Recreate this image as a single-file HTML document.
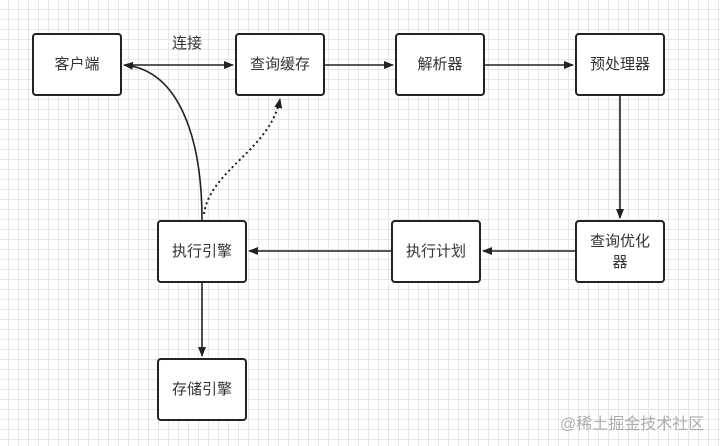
<!DOCTYPE html>
<html><head><meta charset="utf-8"><style>
body{margin:0;width:720px;height:446px;overflow:hidden;background:#fff;
background-image:linear-gradient(#e6e6e6 1px,transparent 1px),linear-gradient(90deg,#e6e6e6 1px,transparent 1px);background-size:10px 10px;background-position:-2px -1px;
font-family:"Liberation Sans","Noto Sans CJK SC",sans-serif;}
.b{position:absolute;width:90px;height:63px;border:2px solid #222;border-radius:4px;background:#fff;display:flex;align-items:center;justify-content:center;text-align:center;font-size:15px;color:#333;box-sizing:border-box;line-height:21px}
svg{position:absolute;left:0;top:0}
</style></head><body>
<svg width="720" height="446">
<defs><marker id="a" markerWidth="10" markerHeight="10" refX="9" refY="5" orient="auto" markerUnits="userSpaceOnUse"><path d="M0,1 L10,5 L0,9 Z" fill="#222"/></marker></defs>
<g stroke="#222" stroke-width="1.6" fill="none">
<line x1="132" y1="65" x2="233" y2="65" marker-end="url(#a)"/>
<line x1="325" y1="65" x2="393" y2="65" marker-end="url(#a)"/>
<line x1="485" y1="65" x2="573" y2="65" marker-end="url(#a)"/>
<line x1="620" y1="96" x2="620" y2="218" marker-end="url(#a)"/>
<line x1="575" y1="251" x2="483" y2="251" marker-end="url(#a)"/>
<line x1="391" y1="251" x2="249" y2="251" marker-end="url(#a)"/>
<line x1="202" y1="283" x2="202" y2="356" marker-end="url(#a)"/>
<path d="M202,220 C202,140 180,70 124,65" marker-end="url(#a)"/>
<path d="M204,214 C210,170 270,150 280,99" stroke-dasharray="2,3" stroke-width="2" marker-end="url(#a)"/>
</g>
</svg>
<div class="b" style="left:32px;top:33px">客户端</div>
<div class="b" style="left:235px;top:33px">查询缓存</div>
<div class="b" style="left:395px;top:33px">解析器</div>
<div class="b" style="left:575px;top:33px">预处理器</div>
<div class="b" style="left:575px;top:220px;padding:0 10px">查询优化器</div>
<div class="b" style="left:391px;top:220px">执行计划</div>
<div class="b" style="left:157px;top:220px">执行引擎</div>
<div class="b" style="left:157px;top:358px">存储引擎</div>
<div style="position:absolute;left:172px;top:32px;font-size:15px;color:#333">连接</div>
<div style="position:absolute;left:560px;top:410px;font-size:16px;color:#999;opacity:.8">@稀土掘金技术社区</div>
</body></html>
